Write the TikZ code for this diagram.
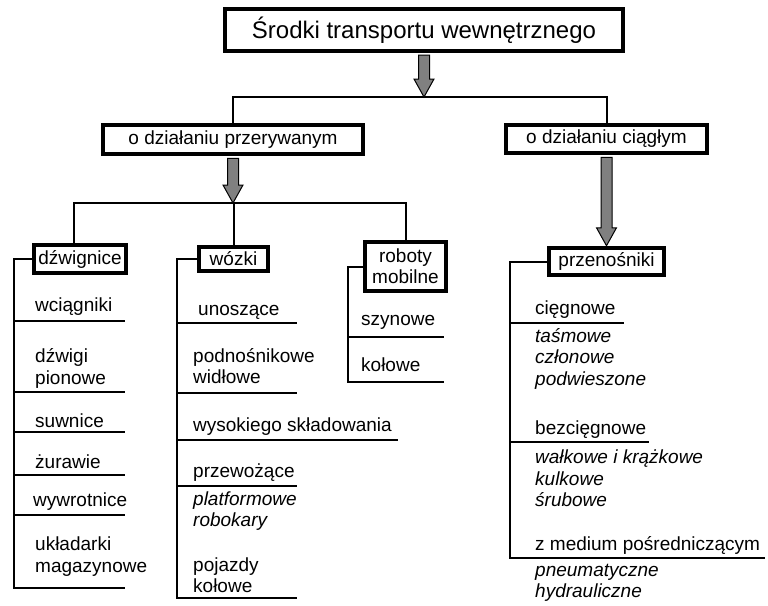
\documentclass[tikz,border=0pt]{standalone}
\usepackage{fontspec}
\setmainfont{Liberation Sans}
\usetikzlibrary{calc}
\tikzset{
  box/.style={draw, line width=4pt, fill=white, inner sep=0pt, align=center,
    font=\fontsize{19}{21}\selectfont},
  item/.style={anchor=west, inner sep=0pt, align=left, font=\fontsize{19}{21.5}\selectfont},
  sub/.style={item, font=\fontsize{19}{21.5}\selectfont\itshape},
  conn/.style={line width=2pt},
  arrowst/.style={fill=black!50, draw=black, line width=1pt, line join=miter}
}
\newcommand\blockarrow[2]{%
  \filldraw[arrowst] let \p1=(#1), \p2=(#2) in
    (\x1-5.5pt,\y1-2pt) -- (\x1+5.5pt,\y1-2pt) -- (\x1+5.5pt,\y2+18pt)
    -- (\x1+10pt,\y2+18pt) -- (\x1,\y2) -- (\x1-10pt,\y2+18pt)
    -- (\x1-5.5pt,\y2+18pt) -- cycle;}
\begin{document}
\begin{tikzpicture}[x=1pt,y=-1pt]
\useasboundingbox (0,0) rectangle (768,605);
% boxes
\node[box, font=\fontsize{24}{28}\selectfont, minimum width=398pt, minimum height=42pt] (top) at (424,30) {Środki transportu wewnętrznego};
\node[box, minimum width=260pt, minimum height=29.5pt] (pr) at (233,139.5) {o działaniu przerywanym};
\node[box, minimum width=201.5pt, minimum height=28.5pt] (ci) at (606.5,139) {o działaniu ciągłym};
\node[box, minimum width=92.5pt, minimum height=28.5pt] (dz) at (80,259) {dźwignice};
\node[box, minimum width=69.5pt, minimum height=24.5pt] (wo) at (233.5,259) {wózki};
\node[box, minimum width=81.5pt, minimum height=49.5pt] (rb) at (405.5,266.5) {roboty\\mobilne};
\node[box, minimum width=115.5pt, minimum height=27.5pt] (pz) at (606.5,261.5) {przenośniki};
% connectors
\coordinate (j1) at (424,97);
\coordinate (j2) at (233,203);
\coordinate (h1) at (74,203);
\draw[conn] (pr.north) |- (j1) -| (ci.north);
\draw[conn] (h1 |- dz.north) -- (h1) -| (rb.north);
\draw[conn] (wo.north) -- (wo.north |- j2);
\blockarrow{top.south}{j1}
\blockarrow{pr.south}{j2}
\blockarrow{ci.south}{pz.north}
% dzwignice column
\draw[conn] (dz.west) -- (14,259) -- (14,588) -- (125,588);
\draw[conn] (14,321) -- (125,321);
\draw[conn] (14,392) -- (125,392);
\draw[conn] (14,432) -- (125,432);
\draw[conn] (14,475) -- (125,475);
\draw[conn] (14,515) -- (125,515);
\node[item] (d1) at (35,307) {wciągniki};
\node[item] (d2) at (35,368.5) {dźwigi\\pionowe};
\node[item] (d3) at (35,421) {suwnice};
\node[item] (d4) at (35,462) {żurawie};
\node[item] (d5) at (33,502) {wywrotnice};
\node[item] (d6) at (35,556.5) {układarki\\magazynowe};
% wozki column
\draw[conn] (wo.west) -- (177,259) -- (177,598) -- (297,598);
\draw[conn] (177,323) -- (297,323);
\draw[conn] (177,393) -- (297,393);
\draw[conn] (177,440) -- (398,440);
\draw[conn] (177,486) -- (297,486);
\node[item] (w1) at (198,312) {unoszące};
\node[item] (w2) at (193,366) {podnośnikowe\\widłowe};
\node[item] (w3) at (193,427) {wysokiego składowania};
\node[item] (w4) at (193,473) {przewożące};
\node[sub] (w5) at (193,511) {platformowe\\robokary};
\node[item] (w6) at (193,575) {pojazdy\\kołowe};
% roboty column
\draw[conn] (rb.west) -- (348,266.5) -- (348,382) -- (444,382);
\draw[conn] (348,337) -- (444,337);
\node[item] (r1) at (361,322) {szynowe};
\node[item] (r2) at (361,365) {kołowe};
% przenosniki column
\draw[conn] (pz.west) -- (510,261.5) -- (510,558) -- (765,558);
\draw[conn] (510,323) -- (624,323);
\draw[conn] (510,442) -- (649,442);
\node[item] (p1) at (535,310) {cięgnowe};
\node[sub] (p2) at (535,358.5) {taśmowe\\członowe\\podwieszone};
\node[item] (p3) at (535,430) {bezcięgnowe};
\node[sub] (p4) at (535,478.5) {wałkowe i krążkowe\\kulkowe\\śrubowe};
\node[item] (p5) at (535,545) {z medium pośredniczącym};
\node[sub] (p6) at (535,583) {pneumatyczne\\hydrauliczne};
\end{tikzpicture}
\end{document}
